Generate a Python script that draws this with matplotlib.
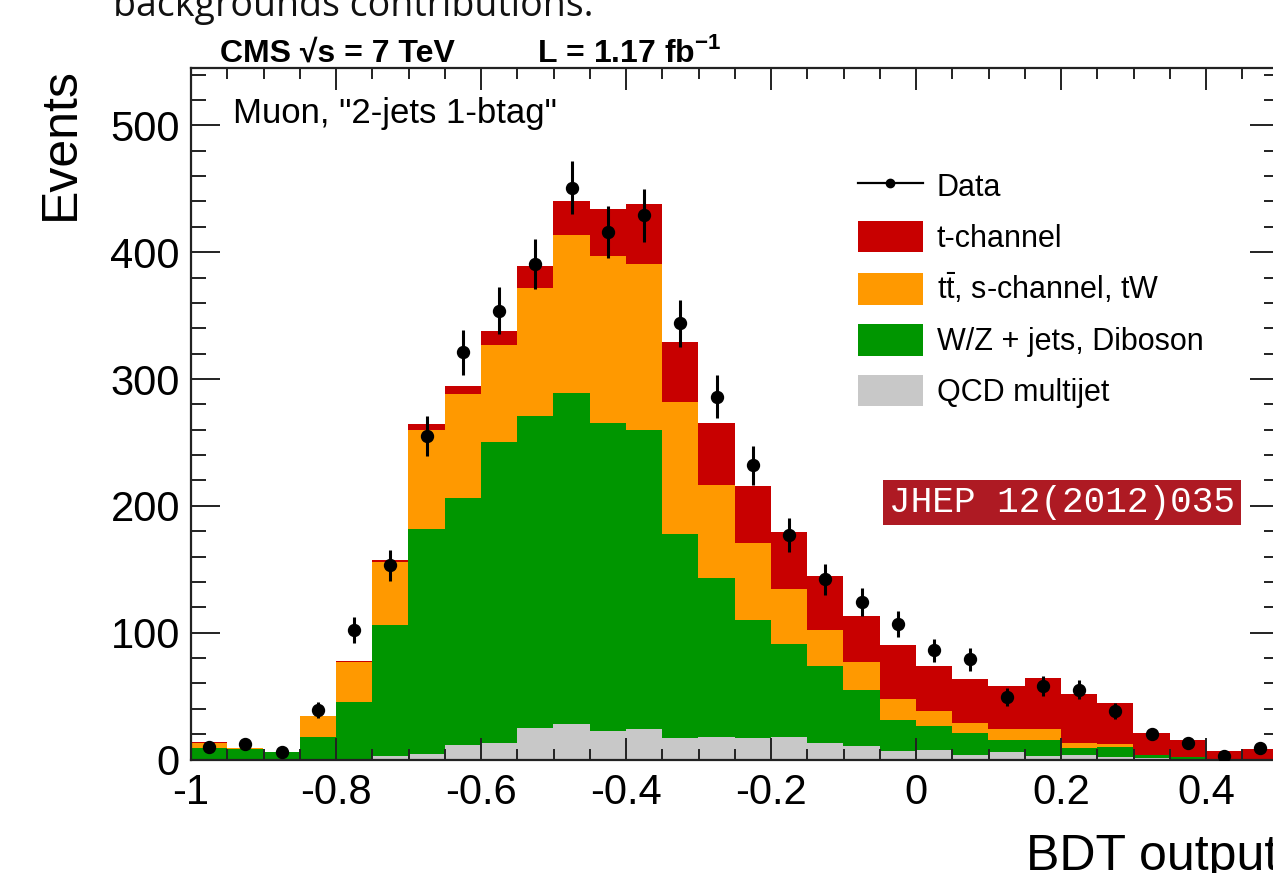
import numpy as np
import matplotlib
matplotlib.use("Agg")
import matplotlib.pyplot as plt
from matplotlib.lines import Line2D
from matplotlib.patches import Patch, Rectangle

plt.rcParams['font.family'] = ['Liberation Sans', 'DejaVu Sans']
plt.rcParams['mathtext.fontset'] = 'custom'
plt.rcParams['mathtext.rm'] = 'Liberation Sans'
plt.rcParams['mathtext.bf'] = 'Liberation Sans:bold'
plt.rcParams['axes.unicode_minus'] = False

# ---- data (BDT output, 30 bins from -1 to 0.5) ----
x_range = (-1.0, 0.5)
n_bins = 30
qcd = [0, 0, 0, 0, 0, 2.6, 4.5, 11.3, 13, 25, 28, 22.8, 24, 17, 18, 17, 18, 13,
       10.5, 6.5, 7.3, 3.4, 5.8, 3, 3.4, 2, 1, 0.5, 0, 0]
wjets = [9, 8, 6, 18, 45, 103.4, 177.5, 194.7, 237, 246, 261, 242.2, 236, 161,
         125, 93, 73, 60.5, 44.1, 24.5, 19.5, 17.6, 9.9, 12.7, 5.3, 8, 2.4, 1.5, 0.5, 0.5]
ttbar = [4, 1, 0, 16, 31.5, 50, 78, 82, 77, 101, 124.6, 132, 131, 104, 73.5, 61,
         43.6, 28.5, 22.4, 17, 11.2, 8, 8.3, 8.3, 4.3, 2.6, 0, 0, 0, 0]
tchan = [0.5, 0.3, 0.3, 0.5, 1.5, 1.5, 4.6, 6.5, 11, 17, 26.4, 37, 47, 47, 48.5,
         45, 44.4, 43, 36, 42, 36, 34.5, 33.7, 40, 38.7, 32, 17.6, 13.2, 6.5, 7.9]
data = [10, 12, 6, 39, 102, 153, 255, 321, 354, 391, 451, 416, 429, 344, 286, 232,
        177, 142, 124, 107, 86, 79, 49, 58, 55, 38, 20, 13, 3, 9]

labels = ["QCD multijet", "W/Z + jets, Diboson", r"t$\bar{\rm t}$, s-channel, tW", "t-channel"]
colors = ["#c8c8c8", "#009600", "#ff9900", "#c80000"]

xticks = [-1, -0.8, -0.6, -0.4, -0.2, 0, 0.2, 0.4]
xtick_labels = ["-1", "-0.8", "-0.6", "-0.4", "-0.2", "0", "0.2", "0.4"]
yticks = [0, 100, 200, 300, 400, 500]
ytick_labels = ["0", "100", "200", "300", "400", "500"]

W, H = 1273, 873
fig = plt.figure(figsize=(W / 100, H / 100), dpi=100)
ax = fig.add_axes([191 / W, 113.5 / H, 1087.5 / W, 691.2 / H])

edges = np.linspace(x_range[0], x_range[1], n_bins + 1)
centers = 0.5 * (edges[:-1] + edges[1:])

bottom = np.zeros(n_bins)
for comp, col in zip([qcd, wjets, ttbar, tchan], colors):
    top = bottom + np.array(comp, dtype=float)
    ax.stairs(top, edges, baseline=bottom, fill=True, color=col, lw=0)
    bottom = top

d = np.array(data, dtype=float)
ax.errorbar(centers, d, yerr=np.sqrt(d), fmt='o', color='black', ms=8.6,
            elinewidth=2.2, capsize=0, zorder=5)

ax.set_xlim(*x_range)
ax.set_ylim(0, 545)
ax.set_xticks(xticks)
ax.set_xticklabels(xtick_labels)
ax.set_yticks(yticks)
ax.set_yticklabels(ytick_labels)
ax.set_xticks(np.arange(-1, 0.501, 0.05), minor=True)
ax.set_yticks(np.arange(0, 545, 20), minor=True)
ax.tick_params(axis='both', which='both', direction='in', top=True, right=True,
               width=1.4, labelsize=30, color='#222222')
ax.tick_params(axis='x', which='major', length=15.8, pad=10)
ax.tick_params(axis='x', which='minor', length=7.9)
ax.tick_params(axis='y', which='major', length=21, pad=8)
ax.tick_params(axis='y', which='minor', length=10.5)
for s in ax.spines.values():
    s.set_linewidth(1.6)
    s.set_color('#222222')

# legend
handles = [Line2D([], [], color='black', marker='o', ms=6, lw=1.6)]
handles += [Patch(facecolor=c, edgecolor='none') for c in colors[::-1]]
leg_labels = ["Data"] + labels[::-1]
fig.legend(handles, leg_labels, loc='upper left',
           bbox_to_anchor=(858 / W, 1 - 170 / H), frameon=False, fontsize=22,
           handlelength=2.12, handleheight=1.21, labelspacing=0.58,
           handletextpad=0.46, borderpad=0, borderaxespad=0)

# texts
fig.text(220 / W, 1 - 62 / H, "CMS √s = 7 TeV", fontsize=23, fontweight='bold',
         va='baseline', ha='left')
fig.text(537 / W, 1 - 62 / H, r"L = 1.17 fb$^{\mathbf{-1}}$", fontsize=23,
         fontweight='bold', va='baseline', ha='left')
fig.text(233 / W, 1 - 123 / H, 'Muon, "2-jets 1-btag"', fontsize=25,
         va='baseline', ha='left')
fig.text(61 / W, 1 - 67 / H, "Events", fontsize=36, rotation=90,
         ha='center', va='top')
fig.text(1278 / W, 1 - 870 / H, "BDT output", fontsize=36, ha='right',
         va='baseline')
fig.text(113 / W, 1 - 16 / H, "backgrounds contributions.", fontsize=27,
         family=['Open Sans', 'DejaVu Sans'], va='baseline', ha='left',
         color='#111111')

# JHEP stamp
fig.patches.append(Rectangle((883 / W, 1 - 525 / H), 358 / W, 45 / H,
                             transform=fig.transFigure, facecolor='#ae1a23',
                             edgecolor='none', zorder=6))
fig.text(1062 / W, 1 - 503 / H, "JHEP 12(2012)035", fontsize=26,
         family=['Liberation Mono', 'DejaVu Sans Mono'], color='white',
         ha='center', va='center', zorder=7)

fig.savefig("out.png", dpi=100)
